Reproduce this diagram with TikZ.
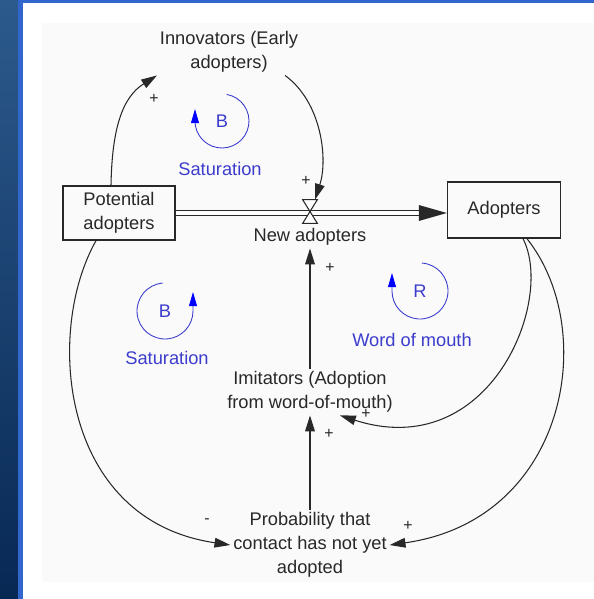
\documentclass[tikz,border=0pt]{standalone}
\usepackage{fontspec}
\setmainfont{Liberation Sans}
\usetikzlibrary{arrows.meta}

\definecolor{inkgray}{RGB}{40,40,40}
\definecolor{loopblue}{RGB}{60,60,205}
\definecolor{stripeblue}{RGB}{50,102,204}
\definecolor{bartop}{RGB}{44,90,140}
\definecolor{barbottom}{RGB}{8,40,84}
\definecolor{paper}{RGB}{250,250,250}

\begin{document}
\begin{tikzpicture}[x=0.02cm, y=0.02cm,
	every node/.style={inner sep=1.5pt, text=inkgray, font=\fontsize{10.4}{13.6}\selectfont},
	stock/.style={draw=inkgray, line width=0.8pt, align=center},
	aux/.style={align=center},
	sign/.style={inner sep=0pt, font=\fontsize{9}{9}\selectfont},
	link/.style={draw=inkgray, line width=0.6pt, -{Triangle[length=9pt,width=5.5pt]}},
	pipe/.style={draw=inkgray, line width=0.6pt, double=white, double distance=2.6pt},
	loopline/.style={draw=loopblue, line width=0.5pt, -{Triangle[length=8pt,width=4.5pt,color=blue]}},
	looptext/.style={text=loopblue}]
			\useasboundingbox (0,0) rectangle (594,-599);
			\fill [white] (0,0) rectangle (594,-599);
			\fill [paper] (42,-23) rectangle (594,-582);
			\shade [top color=bartop, bottom color=barbottom] (0,0) rectangle (18,-599);
			\fill [stripeblue] (18,0) rectangle (23,-599);
			\fill [stripeblue] (18,0) rectangle (594,-3);
			\node [stock, minimum width=2.24cm, minimum height=1.08cm] (potential) at (119,-213) {Potential\\adopters};
			\node [stock, minimum width=2.26cm, minimum height=1.12cm] (adopters) at (504,-210) {Adopters};
			\node [aux] (innovators) at (229,-52) {Innovators (Early\\adopters)};
			\node [aux] (newadopt) at (310,-237) {New adopters};
			\node [aux] (imitators) at (310,-392) {Imitators (Adoption\\from word-of-mouth)};
			\node [aux] (prob) at (310,-545) {Probability that\\contact has not yet\\adopted};
			\node [minimum width=0.28cm, minimum height=0.46cm, inner sep=0pt] (valve) at (310,-211.5) {};
			\draw [pipe] (potential.east) -- ([xshift=-0.5cm]adopters.west |- potential.east);
			\fill [inkgray] (adopters.west |- potential.east) -- ++(-28,8) -- ++(0,-16) -- cycle;
			\draw [inkgray, fill=white, line width=0.6pt] (valve.north west) -- (valve.north east) -- (valve.south west) -- (valve.south east) -- cycle;
			\draw [link] ([xshift=-0.16cm]potential.north) .. controls +(1,56) and +(-35,-22) .. (innovators.south west);
			\draw [link] ([xshift=-0.32cm]innovators.south east) .. controls +(37,-27) and +(13,40) .. ([xshift=0.1cm]valve.north);
			\draw [link] (imitators.north) -- (newadopt.south);
			\draw [link] (prob.north) -- (imitators.south);
			\draw [link] ([xshift=-0.46cm]potential.south) .. controls +(-51,-90) and +(-171,25) .. (prob.west);
			\draw [link] ([xshift=0.38cm]adopters.south) .. controls +(32,-62) and +(150,-48) .. ([xshift=0.6cm]imitators.south);
			\draw [link] ([xshift=0.46cm]adopters.south) .. controls +(73,-92) and +(177,25) .. (prob.east);
			\node [sign] (plusA) at (154,-99) {+};
			\node [sign] (plusB) at (306,-181) {+};
			\node [sign] (plusC) at (330,-268) {+};
			\node [sign] (plusD) at (329,-434) {+};
			\node [sign] (minusE) at (207,-521) {-};
			\node [sign] (plusF) at (408,-526) {+};
			\node [sign] (plusG) at (366,-414) {+};
			\node [looptext] (loopB1) at (222,-121) {B};
			\draw [loopline] (loopB1.center) ++(80:27) arc (80:-180:27) -- ++(0,12);
			\node [looptext] (satB1) at (220,-169) {Saturation};
			\node [looptext] (loopB2) at (165,-311) {B};
			\draw [loopline] (loopB2.center) ++(95:28) arc (95:360:28) -- ++(0,19);
			\node [looptext] (satB2) at (167,-358) {Saturation};
			\node [looptext] (loopR) at (420,-291) {R};
			\draw [loopline] (loopR.center) ++(86:28) arc (86:-180:28) -- ++(0,18);
			\node [looptext] (wom) at (412,-340) {Word of mouth};
			\end{tikzpicture}
\end{document}
